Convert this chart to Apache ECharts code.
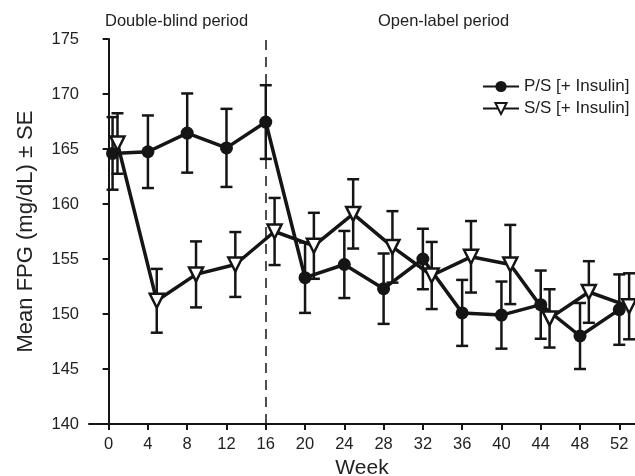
<!DOCTYPE html>
<html>
<head>
<meta charset="utf-8">
<script src="https://cdn.jsdelivr.net/npm/echarts@6/dist/echarts.min.js"></script>
<style>
  html, body { margin: 0; padding: 0; background: #fff; }
  #chart { width: 635px; height: 476px; }
</style>
</head>
<body>
<div id="chart"></div>
<script>
// 周数（两组略错开）
var weeksPS = [0.4, 4, 8, 12, 16, 20, 24, 28, 32, 36, 40, 44, 48, 52];
var weeksSS = [0.9, 4.9, 8.9, 12.9, 16.9, 20.9, 24.9, 28.9, 32.9, 36.9, 40.9, 44.9, 48.9, 53];
// P/S [+ Insulin]
var meanPS = [164.6, 164.75, 166.45, 165.1, 167.45, 153.3, 154.5, 152.3, 155.0, 150.1, 149.9, 150.85, 148.0, 150.4];
var sePS = [3.3, 3.3, 3.6, 3.55, 3.35, 3.2, 3.05, 3.2, 2.75, 3.0, 3.05, 3.1, 3.0, 3.2];
// S/S [+ Insulin]
var meanSS = [165.5, 151.2, 153.6, 154.5, 157.5, 156.2, 159.1, 156.1, 153.5, 155.2, 154.5, 149.6, 152.0, 150.7];
var seSS = [2.75, 2.9, 3.0, 2.95, 3.05, 3.0, 3.15, 3.25, 3.05, 3.25, 3.6, 2.65, 2.8, 3.0];
// 坐标轴刻度
var weekTicks = [0, 4, 8, 12, 16, 20, 24, 28, 32, 36, 40, 44, 48, 52];

var FONT = '"Liberation Sans", Arial, sans-serif';
var INK = '#151515';

function pairs(xs, ys){
  var out = [];
  for(var i=0; i<xs.length; i++){
    out.push([xs[i], ys[i]]);
  }
  return out;
}
function errData(xs, ys, se){
  var out = [];
  for(var i=0; i<xs.length; i++){
    out.push([xs[i], ys[i] - se[i], ys[i] + se[i]]);
  }
  return out;
}
// 误差线
function renderErr(params, api){
  var lo = api.coord([api.value(0), api.value(1)]);
  var hi = api.coord([api.value(0), api.value(2)]);
  var w = 6;
  var st = { stroke: INK, lineWidth: 2.5 };
  return {
    type: 'group',
    children: [
      { type: 'line', shape: { x1: lo[0], y1: lo[1], x2: hi[0], y2: hi[1] }, style: st },
      { type: 'line', shape: { x1: lo[0]-w, y1: lo[1], x2: lo[0]+w, y2: lo[1] }, style: st },
      { type: 'line', shape: { x1: hi[0]-w, y1: hi[1], x2: hi[0]+w, y2: hi[1] }, style: st }
    ]
  };
}

var option = {
  animation: false,
  backgroundColor: '#fff',
  grid: { left: 89, right: 0, top: 39, bottom: 52, outerBoundsMode: 'none' },
  legend: {
    left: 477,
    top: 73,
    orient: 'vertical',
    itemWidth: 36,
    itemHeight: 14,
    itemGap: 5,
    textStyle: { fontFamily: FONT, fontSize: 17, color: '#222' },
    data: ['P/S [+ Insulin]', 'S/S [+ Insulin]']
  },
  xAxis: {
    type: 'value',
    min: -2,
    max: 53.6,
    name: 'Week',
    nameLocation: 'middle',
    nameGap: 31,
    nameTextStyle: { fontFamily: FONT, fontSize: 21, color: '#222' },
    splitLine: { show: false },
    axisLine: { lineStyle: { color: INK, width: 2 } },
    axisTick: { customValues: weekTicks, length: 6, lineStyle: { color: INK, width: 2 } },
    axisLabel: { customValues: weekTicks, fontFamily: FONT, fontSize: 16.5, color: '#222', margin: 12 }
  },
  yAxis: {
    type: 'value',
    min: 140,
    max: 175,
    interval: 5,
    name: 'Mean FPG (mg/dL) ± SE',
    nameLocation: 'middle',
    nameGap: 52,
    nameTextStyle: { fontFamily: FONT, fontSize: 22, color: '#222' },
    splitLine: { show: false },
    axisLine: { show: true, lineStyle: { color: INK, width: 2 } },
    axisTick: { show: true, length: 6, lineStyle: { color: INK, width: 2 } },
    axisLabel: { fontFamily: FONT, fontSize: 16.5, color: '#222', margin: 10 }
  },
  graphic: [
    { type: 'text', left: 105, top: 13, style: { text: 'Double-blind period', font: '16.5px ' + FONT, fill: '#222' } },
    { type: 'text', left: 378, top: 13, style: { text: 'Open-label period', font: '16.5px ' + FONT, fill: '#222' } }
  ],
  series: [
    {
      name: 'errPS',
      type: 'custom',
      renderItem: renderErr,
      data: errData(weeksPS, meanPS, sePS),
      z: 1
    },
    {
      name: 'errSS',
      type: 'custom',
      renderItem: renderErr,
      data: errData(weeksSS, meanSS, seSS),
      z: 1
    },
    {
      name: 'P/S [+ Insulin]',
      type: 'line',
      data: pairs(weeksPS, meanPS),
      symbol: 'circle',
      symbolSize: 13,
      itemStyle: { color: INK },
      lineStyle: { color: INK, width: 3.5 },
      z: 3,
      markLine: {
        silent: true,
        symbol: ['none', 'none'],
        label: { show: false },
        lineStyle: { color: INK, width: 1.5, type: [10, 7] },
        data: [{ xAxis: 16 }]
      }
    },
    {
      name: 'S/S [+ Insulin]',
      type: 'line',
      data: pairs(weeksSS, meanSS),
      symbol: 'triangle',
      symbolRotate: 180,
      symbolSize: 14,
      itemStyle: { color: '#fff', borderColor: INK, borderWidth: 2.5 },
      lineStyle: { color: INK, width: 3.5 },
      z: 4
    }
  ]
};

echarts.init(document.getElementById('chart')).setOption(option);
</script>
</body>
</html>
